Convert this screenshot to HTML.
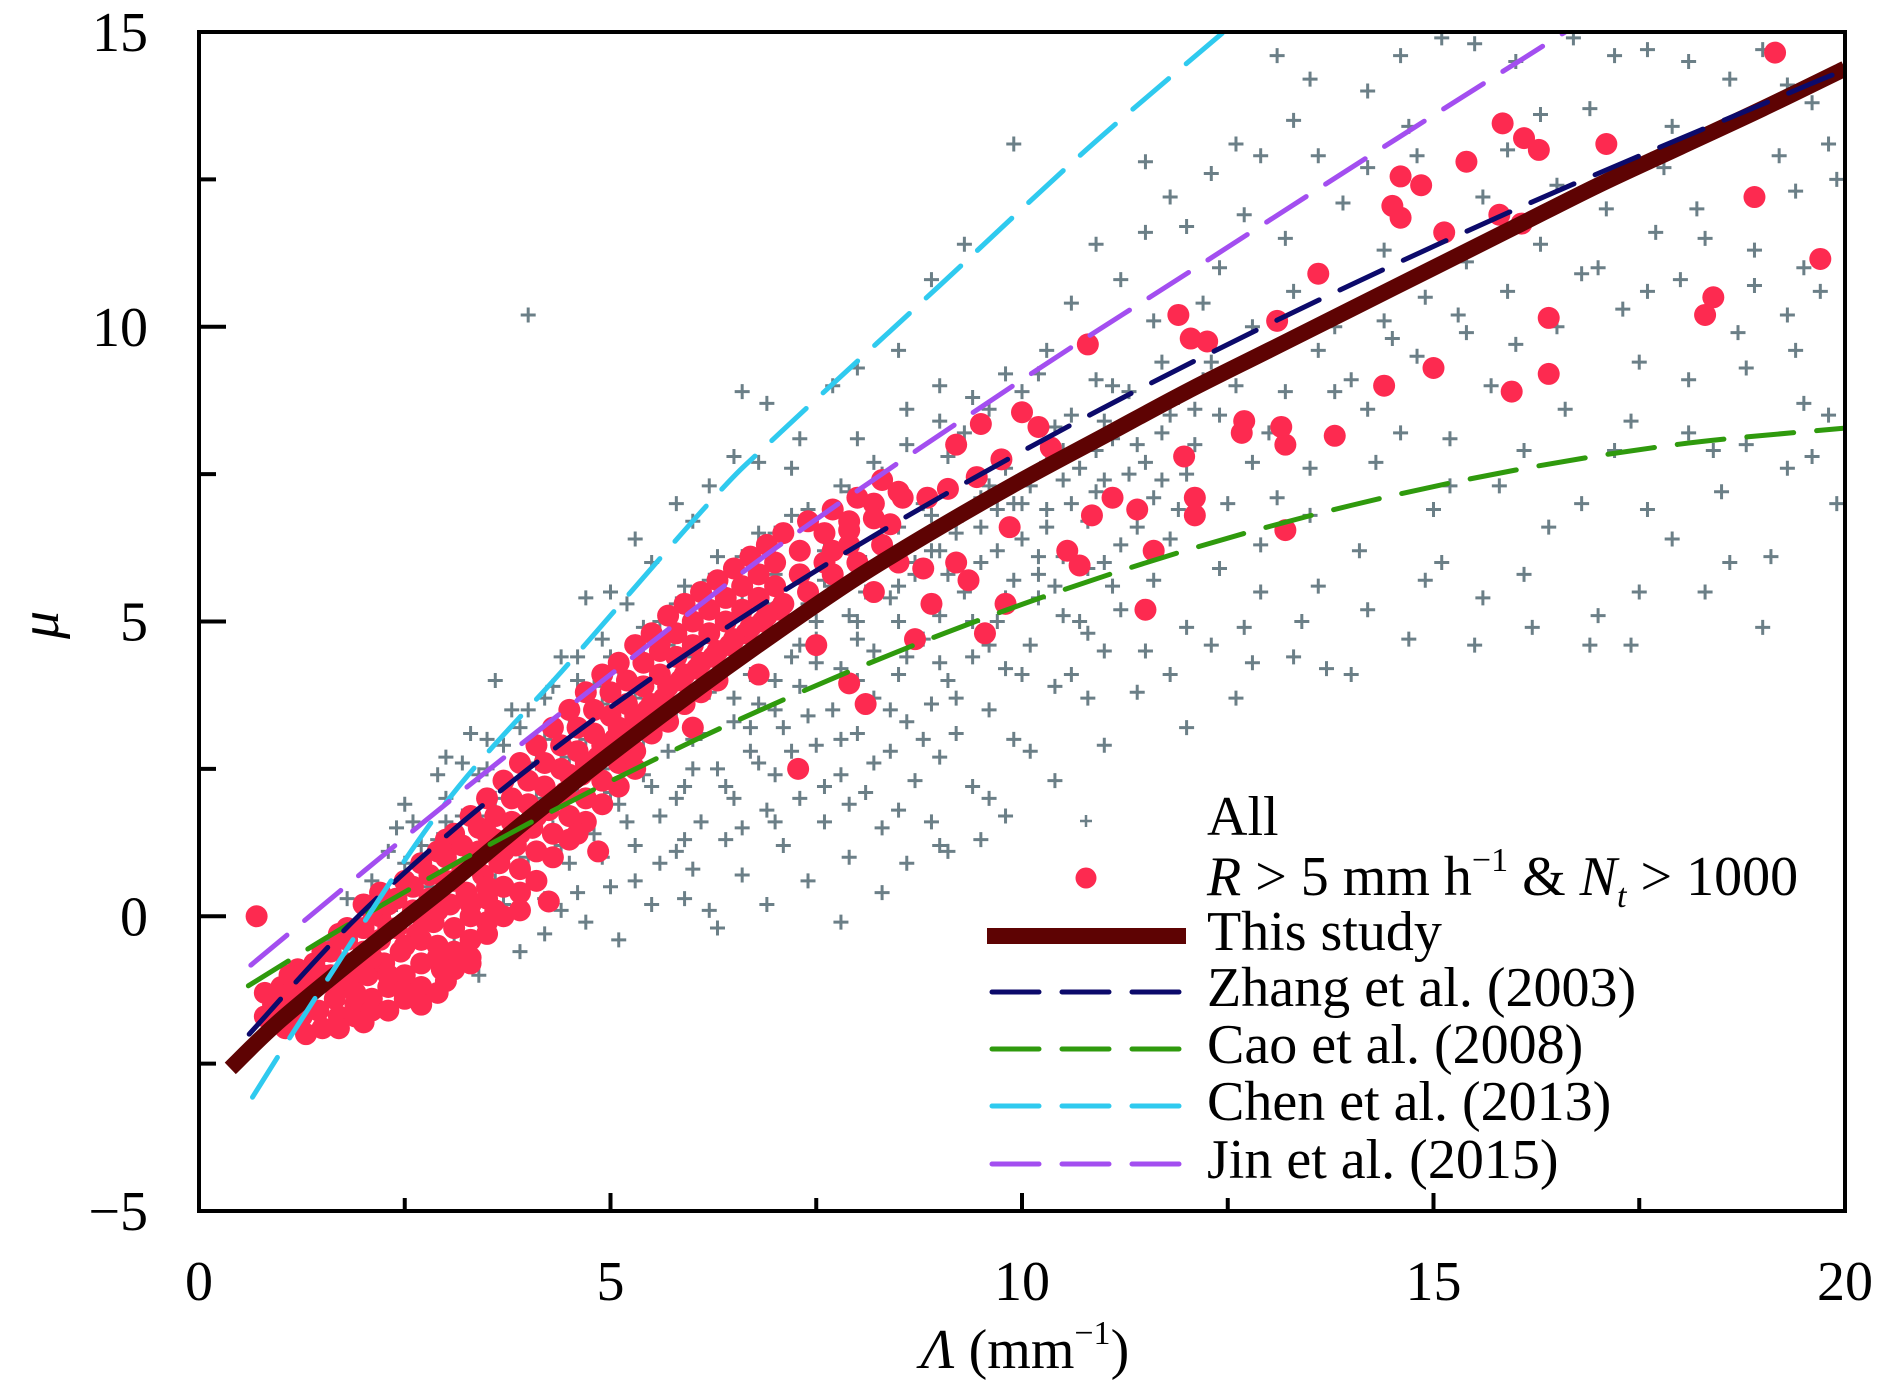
<!DOCTYPE html>
<html><head><meta charset="utf-8"><style>
html,body{margin:0;padding:0;background:#fff;}
svg{display:block;font-family:"Liberation Serif","DejaVu Serif",serif;}
</style></head><body>
<svg id="chart" width="1890" height="1384" viewBox="0 0 1890 1384" xmlns="http://www.w3.org/2000/svg">
<defs><clipPath id="clip"><rect x="199" y="32" width="1646" height="1179"/></clipPath></defs>
<g id="scatterAll" clip-path="url(#clip)"></g>
<g id="scatterRed" clip-path="url(#clip)"></g>
<g id="lines" clip-path="url(#clip)"></g>
<rect x="199" y="32" width="1646" height="1179" fill="none" stroke="#000" stroke-width="4"/>
<g id="ticks"></g>
<text x="1025" y="1368" font-size="56" text-anchor="middle"><tspan font-style="italic">Λ</tspan> (mm<tspan font-size="34" dy="-24">−1</tspan><tspan dy="24">)</tspan></text>
<text x="0" y="0" font-size="56" font-style="italic" text-anchor="middle" transform="translate(58,625) rotate(-90)">μ</text>
<g id="legend">
  <g>
    <path d="M1080 821h12M1086 815v12" stroke="#6b7f87" stroke-width="2.5"/>
    <text x="1207" y="835" font-size="56">All</text>
  </g>
  <g>
    <circle cx="1086" cy="878" r="10.5" fill="#fd2a50"/>
    <text x="1207" y="895" font-size="56"><tspan font-style="italic">R</tspan> &gt; 5 mm h<tspan font-size="34" dy="-24">−1</tspan><tspan dy="24"> &amp; </tspan><tspan font-style="italic">N</tspan><tspan font-style="italic" font-size="34" dy="12">t</tspan><tspan dy="-12"> &gt; 1000</tspan></text>
  </g>
  <g>
    <line x1="987" y1="936" x2="1186" y2="936" stroke="#5e0303" stroke-width="16"/>
    <text x="1207" y="950" font-size="56">This study</text>
  </g>
  <g>
    <line x1="992" y1="992" x2="1181" y2="992" stroke="#0c0a6b" stroke-width="5" stroke-dasharray="47 23" stroke-linecap="round"/>
    <text x="1207" y="1006" font-size="56">Zhang et al. (2003)</text>
  </g>
  <g>
    <line x1="992" y1="1049" x2="1181" y2="1049" stroke="#2f9a0d" stroke-width="5" stroke-dasharray="47 23" stroke-linecap="round"/>
    <text x="1207" y="1063" font-size="56">Cao et al. (2008)</text>
  </g>
  <g>
    <line x1="992" y1="1106" x2="1181" y2="1106" stroke="#2fcaef" stroke-width="5" stroke-dasharray="47 23" stroke-linecap="round"/>
    <text x="1207" y="1120" font-size="56">Chen et al. (2013)</text>
  </g>
  <g>
    <line x1="992" y1="1164" x2="1181" y2="1164" stroke="#a34ef0" stroke-width="5" stroke-dasharray="47 23" stroke-linecap="round"/>
    <text x="1207" y="1178" font-size="56">Jin et al. (2015)</text>
  </g>
</g>
</svg>
<script>
const xTicks = [0, 5, 10, 15, 20];
const xMinorTicks = [2.5, 7.5, 12.5, 17.5];
const yTicks = [-5, 0, 5, 10, 15];
const yMinorTicks = [-2.5, 2.5, 7.5, 12.5];
const xTickLabels = ["0", "5", "10", "15", "20"];
const yTickLabels = ["−5", "0", "5", "10", "15"];

const thisStudyLambda = [0.38,1,2,3,4,5,6,7,8,9,10,11,12,13,14,15,16,17,18,19,20];
const thisStudyMu = [-2.58,-1.75,-0.6,0.5,1.65,2.75,3.8,4.8,5.75,6.6,7.4,8.15,8.9,9.6,10.3,11.0,11.7,12.4,13.05,13.7,14.38];
const zhangLambda = [0.61,1.935,3.551,5.459,7.659,10.151,12.935,16.011,19.379,19.91];
const zhangMu = [-2,0,2,4,6,8,10,12,14,14.3];
const caoLambda = [0.6,2,4,6,8,10,12,14,16,18,20];
const caoMu = [-1.18,0.01,1.57,2.97,4.21,5.29,6.21,6.97,7.57,8.01,8.28];
const chenLambda = [0.65,1.5,2.97,4.5,6.23,7.06,9,10.78,12.45];
const chenMu = [-3.07,-1.2,1.87,4.3,7.06,8.2,10.7,13,15];
const jinLambda = [0.63,2.97,5,7.11,10,12,14.26,16.6];
const jinMu = [-0.83,1.87,4.1,6.35,9.1,10.9,12.93,15];

const allPoints = [[1.3,-0.9],[1.6,-0.4],[1.8,0.3],[2.0,-0.2],[2.1,0.6],[2.3,1.1],[2.4,0.2],[2.5,0.9],[2.6,1.6],[2.7,-0.3],[2.8,0.5],[2.9,1.3],[3.0,2.0],[3.1,0.9],[3.2,1.7],[3.3,0.1],[3.4,2.4],[3.5,1.2],[3.6,2.0],[3.6,0.6],[3.7,2.9],[3.8,1.6],[3.9,-0.6],[3.9,2.5],[4.0,3.5],[4.0,1.0],[4.1,2.0],[4.2,3.0],[4.2,0.3],[4.3,3.9],[4.3,1.5],[4.4,2.6],[4.5,3.4],[4.5,0.9],[4.6,4.4],[4.6,2.1],[4.7,-0.1],[4.7,3.0],[4.8,3.9],[4.8,1.4],[4.9,2.5],[4.9,4.7],[5.0,3.4],[5.0,0.5],[5.1,1.9],[5.1,4.2],[5.2,2.9],[5.2,5.3],[5.3,3.7],[5.3,1.2],[5.4,2.4],[5.4,4.6],[5.5,3.3],[5.5,0.2],[5.6,1.7],[5.6,5.0],[5.7,4.0],[5.7,2.8],[5.8,1.1],[5.8,3.5],[5.9,5.6],[5.9,2.2],[6.0,4.4],[6.0,0.8],[6.1,3.1],[6.1,1.6],[6.2,5.2],[6.2,3.8],[6.3,2.5],[6.3,6.1],[6.4,4.6],[6.4,1.3],[6.5,3.3],[6.5,2.0],[6.6,5.5],[6.6,0.7],[6.7,4.1],[6.7,2.8],[6.8,6.5],[6.8,3.6],[6.9,1.8],[6.9,4.9],[7.0,2.4],[7.0,5.8],[7.1,3.2],[7.1,1.2],[7.2,4.4],[7.2,6.8],[7.3,3.9],[7.3,2.0],[7.4,5.3],[7.4,0.6],[7.5,2.9],[7.5,4.7],[7.6,6.2],[7.6,1.6],[7.7,3.5],[7.7,5.6],[7.8,2.4],[7.8,4.2],[7.9,7.2],[7.9,1.0],[8.0,3.1],[8.0,5.0],[8.1,6.0],[8.1,2.1],[8.2,4.5],[8.2,3.7],[8.3,7.5],[8.3,1.5],[8.4,5.4],[8.4,2.8],[8.5,6.6],[8.5,4.1],[8.6,3.3],[8.6,0.9],[8.7,5.8],[8.7,2.3],[8.8,7.0],[8.8,4.7],[8.9,3.6],[8.9,6.2],[9.0,2.7],[9.0,5.1],[9.1,7.8],[9.1,4.0],[9.2,6.5],[9.2,3.1],[9.3,5.5],[9.3,8.2],[9.4,4.4],[9.4,2.2],[9.5,7.1],[9.5,6.0],[9.6,3.5],[9.6,8.6],[9.7,5.0],[9.7,6.9],[9.8,4.2],[9.8,7.6],[9.9,5.7],[9.9,3.0],[10.0,6.4],[10.0,8.9],[10.1,4.6],[10.1,7.3],[10.2,5.4],[10.2,9.2],[10.3,6.9],[10.4,3.9],[10.4,7.8],[10.5,6.1],[10.6,8.5],[10.7,5.0],[10.8,6.7],[10.9,7.9],[11.0,4.5],[11.1,9.0],[11.2,6.3],[11.3,7.5],[11.4,3.8],[11.6,5.7],[11.7,9.4],[11.9,6.9],[12.0,3.2],[12.2,10.4],[12.6,3.7],[3.0,2.7],[2.4,1.5],[3.3,3.1],[3.8,3.5],[4.4,4.4],[5.0,5.5],[5.5,6.0],[6.0,6.7],[6.2,7.3],[6.8,7.7],[7.3,8.1],[4.7,5.4],[5.3,6.4],[3.6,4.0],[6.6,8.9],[7.2,7.6],[8.0,8.1],[8.6,8.6],[9.0,9.0],[5.9,0.3],[6.3,-0.2],[6.9,0.2],[7.8,-0.1],[8.3,0.4],[9.1,1.1],[9.8,1.7],[10.4,2.3],[11.0,2.9],[10.6,4.1],[9.5,1.3],[8.9,1.6],[7.0,3.5],[6.5,4.7],[5.7,4.6],[4.9,3.6],[4.1,2.6],[3.4,1.7],[2.7,1.2],[2.2,0.0],[2.9,0.1],[3.7,0.2],[4.5,2.3],[5.4,3.0],[6.1,3.8],[6.7,4.5],[7.5,5.0],[8.1,5.5],[8.7,6.0],[9.2,6.7],[9.9,7.0],[10.5,7.4],[11.1,8.1],[11.8,8.5],[12.3,9.4],[12.8,10.0],[13.3,10.6],
[10.3,9.6],[10.6,10.4],[10.9,9.1],[11.2,10.8],[11.5,11.6],[11.8,12.2],[12.0,11.7],[12.3,12.6],[12.6,13.1],[12.9,12.9],[13.3,13.5],[13.5,14.2],[14.2,14.0],[14.6,14.6],[15.1,14.9],[15.5,14.8],[16.0,14.5],[16.7,14.9],[17.2,14.6],[17.6,14.7],[18.1,14.5],[18.6,14.2],[19.3,14.1],[19.6,13.8],[10.2,5.8],[10.5,5.1],[10.8,4.8],[11.1,5.6],[11.4,6.6],[11.7,7.4],[11.9,8.8],[12.2,9.1],[12.4,5.9],[12.7,4.9],[12.9,6.3],[13.1,7.1],[13.3,4.4],[13.6,5.6],[13.8,8.9],[14.0,4.1],[14.1,6.2],[14.3,7.7],[14.5,9.8],[14.7,4.7],[14.9,10.5],[15.0,6.9],[15.2,8.1],[15.4,11.1],[15.6,5.4],[15.8,7.3],[16.0,9.7],[16.2,4.9],[16.4,6.6],[16.6,8.6],[16.8,10.9],[17.0,5.1],[17.2,7.9],[17.4,4.6],[17.5,9.4],[17.7,11.6],[17.9,6.4],[18.1,8.2],[18.3,5.5],[18.5,7.2],[18.7,9.9],[18.9,11.3],[19.1,6.1],[19.3,7.6],[19.5,8.7],[19.7,10.6],[19.9,12.5],[19.9,7.0],[19.2,12.9],[18.4,13.3],[17.8,12.7],[16.5,12.4],[15.9,13.0],[14.8,12.9],[13.9,12.1],[13.2,11.5],[12.4,11.0],[11.6,10.1],[16.9,13.7],[18.2,12.0],[19.5,11.0],[17.3,10.3],[15.3,10.2],[14.4,11.3],[13.0,9.6],[12.1,8.0],[11.3,8.9],[10.7,7.6],[10.4,8.3],[11.0,6.0],[12.5,7.0],[13.5,6.8],[14.6,8.2],[15.7,9.0],[16.3,11.4],[17.1,12.0],[18.0,10.8],[18.8,9.3],[19.4,9.6],[19.8,8.5],[15.1,6.0],[16.1,5.8],[17.6,6.9],[18.6,6.0],[14.2,5.2],[13.4,5.0],[12.8,4.3],[12.3,4.6],[11.8,4.1],[15.5,4.6],[16.9,4.6],[17.5,5.5],[18.4,7.9],[19.0,4.9],[19.6,7.8],[13.7,4.2],[14.9,5.7],[11.5,12.8],[10.9,11.4],[9.9,13.1],[9.3,11.4],[8.9,10.8],[8.5,9.6],[8.0,9.3],[7.7,9.0],[6.9,8.7],[6.5,7.8],[5.8,7.0],[4.0,10.2],
[2.2,-0.8],[2.6,-0.9],[3.1,-0.5],[3.4,-1.0],[3.9,0.9],[4.2,-0.3],[4.4,1.2],[4.6,0.4],[4.9,1.0],[5.1,-0.4],[5.3,0.6],[5.6,0.9],[5.8,2.0],[6.0,2.5],[6.2,0.1],[6.4,2.2],[6.6,1.5],[6.8,2.6],[7.0,1.6],[7.2,2.8],[7.4,3.4],[7.6,2.2],[7.8,3.0],[8.0,4.0],[8.2,2.6],[8.4,3.5],[8.6,4.4],[8.8,3.0],[9.0,4.3],[9.2,3.7],[9.4,5.0],[9.6,4.6],[9.8,5.4],[10.0,4.1],[10.2,6.1],[10.4,5.6],[10.6,7.0],[10.8,5.9],[11.0,7.4],[11.2,5.2],[11.4,8.0],[11.6,7.1],[11.8,6.4],[12.0,7.5],[12.4,8.5],[12.8,7.7],[13.2,8.9],[13.6,9.6],[14.0,9.1],[14.4,10.1],[2.5,1.9],[2.9,2.4],[3.2,2.6],[3.5,3.0],[3.9,3.2],[4.2,3.7],[4.6,4.0],[5.0,4.4],[5.4,4.9],[5.8,5.3],[6.2,5.7],[6.6,6.1],[7.0,6.5],[7.4,6.9],[7.8,7.3],[8.2,7.7],[8.6,8.0],[9.0,8.4],[9.4,8.8],[9.8,9.2],[4.4,0.1],[5.2,1.6],[5.9,1.3],[6.7,3.2],[7.3,4.6],[7.9,5.1],[8.5,5.0],[9.1,5.8],[9.7,6.2],[10.3,6.6],[10.9,7.2],[11.5,7.7],[12.1,8.6],[5.5,2.2],[6.0,3.0],[6.5,3.7],[7.0,4.0],[7.5,4.3],[8.0,4.7],[8.5,5.6],[9.0,6.2],[9.5,6.6],[10.0,7.0],[10.5,7.9],[11.0,8.4],[4.0,1.6],[4.5,2.7],[5.0,2.1],[3.5,2.5],[3.0,1.6],[6.3,4.3],[6.9,5.3],[7.6,5.7],[8.3,6.4],[8.9,6.8],[9.6,7.3],[10.3,7.7],[11.7,8.2],[12.6,9.0],[13.0,8.2],[13.8,10.0],[12.9,5.5],[13.5,7.6],[14.2,8.6],[14.8,9.5],[15.4,9.9],[15.9,10.6],[16.5,10.0],[17.0,11.0],[17.6,10.6],[18.3,11.5],[18.9,10.7],[19.4,12.3],[15.2,7.3],[16.1,7.9],[16.8,7.0],[17.4,8.4],[18.1,9.1],[18.8,8.0],[19.3,10.2],[17.9,13.4],[16.3,13.6],[14.7,13.4],[13.6,12.9],[12.7,11.9],[14.2,12.7],[15.6,12.2],[19.8,13.1],[19.0,14.7],[13.1,14.6],[12.0,4.9],[11.5,4.5],[10.8,3.7],[10.1,2.8],[9.6,2.0],[9.0,1.2],[8.5,1.8],[7.9,1.9]];

const redPoints = [[0.8,-1.3],[0.8,-1.7],[0.9,-1.5],[1.0,-1.2],[1.0,-1.6],[1.05,-1.9],[1.1,-1.4],[1.2,-0.9],[1.2,-1.3],[1.25,-1.7],[1.3,-1.5],[1.4,-0.8],[1.4,-1.2],[1.45,-1.6],[1.5,-1.0],[1.6,-0.6],[1.6,-1.0],[1.65,-1.4],[1.7,-1.7],[1.8,-0.4],[1.8,-0.8],[1.85,-1.2],[1.9,-1.5],[1.8,-0.2],[2.0,-0.2],[2.0,-0.6],[2.05,-1.0],[2.1,-1.4],[2.0,0.2],[2.2,0.0],[2.2,-0.4],[2.25,-0.8],[2.3,-1.2],[2.2,0.4],[2.4,0.3],[2.4,-0.2],[2.45,-0.6],[2.5,-1.0],[2.5,-1.4],[2.6,0.5],[2.6,0.1],[2.65,-0.3],[2.7,-0.8],[2.7,-1.2],[2.8,0.7],[2.8,0.3],[2.85,-0.1],[2.9,-0.5],[2.95,-0.9],[3.0,1.0],[3.0,0.6],[3.05,0.2],[3.1,-0.2],[3.1,-0.6],[3.0,1.3],[3.2,1.2],[3.2,0.8],[3.25,0.4],[3.3,0.0],[3.3,-0.4],[3.4,1.5],[3.4,1.1],[3.45,0.7],[3.5,0.3],[3.5,-0.1],[3.6,1.7],[3.6,1.3],[3.65,0.9],[3.7,0.5],[3.8,2.0],[3.8,1.6],[3.85,1.2],[3.9,0.8],[3.9,0.4],[4.0,2.3],[4.0,1.9],[4.05,1.5],[4.1,1.1],[4.2,2.6],[4.2,2.2],[4.25,1.8],[4.3,1.4],[4.4,2.9],[4.4,2.5],[4.45,2.1],[4.5,1.7],[4.6,3.2],[4.6,2.8],[4.65,2.4],[4.7,2.0],[4.8,3.5],[4.8,3.1],[4.85,2.7],[4.9,2.3],[5.0,3.8],[5.0,3.4],[5.05,3.0],[5.1,2.6],[5.2,4.0],[5.2,3.6],[5.25,3.2],[5.3,2.8],[5.4,4.3],[5.4,3.9],[5.45,3.5],[5.5,3.1],[5.6,4.5],[5.6,4.1],[5.65,3.7],[5.7,3.3],[5.8,4.8],[5.8,4.4],[5.85,4.0],[5.9,3.6],[6.0,5.0],[6.0,4.6],[6.05,4.2],[6.1,3.8],[6.2,5.2],[6.2,4.8],[6.25,4.4],[6.3,4.0],[6.4,5.4],[6.4,5.0],[6.45,4.6],[6.6,5.6],[6.6,5.2],[6.65,4.8],[6.8,5.8],[6.8,5.4],[6.85,5.0],[7.0,6.0],[7.0,5.6],[7.05,5.2],[7.3,6.2],[7.3,5.8],[7.6,6.5],[7.6,6.0],[7.9,6.7],[7.9,6.3],[8.2,7.0],[8.5,7.2],
[1.1,-1.0],[1.1,-1.8],[1.3,-1.1],[1.3,-2.0],[1.5,-0.6],[1.5,-1.9],[1.7,-0.3],[1.7,-1.1],[1.7,-1.9],[1.9,-0.9],[1.9,-1.3],[1.9,-1.7],[2.1,0.1],[2.1,-0.7],[2.1,-1.6],[2.3,0.2],[2.3,-0.2],[2.3,-1.0],[2.3,-1.6],[2.5,0.6],[2.5,-0.5],[2.5,-1.3],[2.7,0.9],[2.7,0.0],[2.7,-0.4],[2.7,-1.5],[2.9,1.1],[2.9,0.1],[2.9,-0.7],[2.9,-1.3],[3.1,1.4],[3.1,0.6],[3.1,-0.9],[3.3,1.7],[3.3,0.2],[3.3,-0.8],[3.5,2.0],[3.5,1.4],[3.5,0.5],[3.7,2.3],[3.7,1.1],[3.7,0.0],[3.9,2.6],[3.9,1.4],[3.9,0.1],[4.1,2.9],[4.1,1.7],[4.1,0.6],[4.3,3.2],[4.3,2.0],[4.3,1.0],[4.5,3.5],[4.5,2.4],[4.5,1.3],[4.7,3.8],[4.7,2.6],[4.7,1.6],[4.9,4.1],[4.9,2.9],[4.9,1.9],[5.1,4.3],[5.1,3.2],[5.1,2.2],[5.3,4.6],[5.3,3.4],[5.3,2.5],[5.5,4.8],[5.5,3.6],[5.7,5.1],[5.7,3.9],[5.9,5.3],[5.9,4.1],[6.1,5.5],[6.1,4.3],[6.3,5.7],[6.3,4.5],[6.5,5.9],[6.5,4.7],[6.7,6.1],[6.7,4.9],[6.9,6.3],[6.9,5.1],[7.1,6.5],[7.1,5.3],[7.4,6.7],[7.4,5.5],[7.7,6.9],[7.7,5.8],[8.0,7.1],[8.0,6.0],[8.3,7.4],[8.3,6.3],[6.0,3.2],[6.8,4.1],[7.5,4.6],
[0.7,0.0],[4.25,0.25],[3.5,-0.3],[3.3,-0.7],[3.0,-1.1],[2.0,-1.8],[4.6,1.4],[4.85,1.1],[3.6,0.1],
[19.15,14.65],[15.84,13.45],[16.1,13.2],[16.28,13.0],[17.1,13.1],[15.4,12.8],[14.6,12.55],[14.85,12.4],[14.5,12.05],[14.6,11.85],[15.13,11.6],[15.8,11.9],[16.07,11.75],[18.9,12.2],[19.7,11.15],[13.6,10.9],[11.9,10.2],[12.05,9.8],[12.25,9.75],[13.1,10.1],[10.8,9.7],[18.4,10.5],[18.3,10.2],[16.4,10.15],[15.0,9.3],[14.4,9.0],[15.95,8.9],[16.4,9.2],[11.97,7.8],[12.1,7.1],[12.1,6.8],[12.67,8.2],[12.7,8.4],[13.15,8.3],[13.2,8.0],[13.8,8.15],[13.2,6.55],[11.5,5.2],[11.6,6.2],[11.4,6.9],[11.1,7.1],[10.7,5.95],[10.55,6.2],[10.85,6.8],[10.35,7.95],[10.2,8.3],[10.0,8.55],[9.75,7.75],[9.85,6.6],[9.8,5.3],[9.55,4.8],[9.35,5.7],[9.2,6.0],[8.8,5.9],[8.7,4.7],[8.1,3.6],[7.9,3.95],[7.28,2.5],[5.6,4.65],[9.5,8.35],[9.2,8.0],[9.45,7.45],[9.1,7.25],[8.85,7.1],[8.55,7.1],[8.4,6.65],[8.2,6.75],[7.9,6.55],[7.7,6.2],[8.5,6.0],[8.2,5.5],[8.9,5.3]];

const X0 = 199, X1 = 1845, Y0 = 1211, Y1 = 32;
function xScale(v){ return X0 + (v - 0) / 20 * (X1 - X0); }
function yScale(v){ return Y0 - (v + 5) / 20 * (Y0 - Y1); }
const NS = "http://www.w3.org/2000/svg";

const tg = document.getElementById('ticks');
function addLine(g, x1, y1, x2, y2, w){
  const l = document.createElementNS(NS, 'line');
  l.setAttribute('x1', x1); l.setAttribute('y1', y1); l.setAttribute('x2', x2); l.setAttribute('y2', y2);
  l.setAttribute('stroke', '#000'); l.setAttribute('stroke-width', w);
  g.appendChild(l); return l;
}
xTicks.forEach((v, i) => {
  const x = xScale(v);
  if (i > 0 && i < xTicks.length - 1) {
    const l = addLine(tg, x, Y0, x, Y0 - 18, 4);
    
    
  }
  const t = document.createElementNS(NS, 'text');
  t.setAttribute('x', x); t.setAttribute('y', 1300);
  t.setAttribute('font-size', '56'); t.setAttribute('text-anchor', 'middle');
  t.textContent = xTickLabels[i];
  
  
  tg.appendChild(t);
});
xMinorTicks.forEach(v => {
  const l = addLine(tg, xScale(v), Y0, xScale(v), Y0 - 13, 4);
  
  
});
yTicks.forEach((v, i) => {
  const y = yScale(v);
  if (i > 0 && i < yTicks.length - 1) {
    const l = addLine(tg, X0, y, X0 + 27, y, 4);
    
    
  }
  const t = document.createElementNS(NS, 'text');
  t.setAttribute('x', 148); t.setAttribute('y', y + 19);
  t.setAttribute('font-size', '56'); t.setAttribute('text-anchor', 'end');
  t.textContent = yTickLabels[i];
  
  
  tg.appendChild(t);
});
yMinorTicks.forEach(v => {
  const l = addLine(tg, X0, yScale(v), X0 + 17, yScale(v), 4);
  
  
});

const ga = document.getElementById('scatterAll');
allPoints.forEach(p => {
  const x = xScale(p[0]), y = yScale(p[1]);
  const c = document.createElementNS(NS, 'path');
  c.setAttribute('d', `M${x-7.5} ${y}h15M${x} ${y-7.5}v15`);
  c.setAttribute('stroke', '#6b7f87'); c.setAttribute('stroke-width', '3');
  
  
  ga.appendChild(c);
});
const gr = document.getElementById('scatterRed');
redPoints.forEach(p => {
  const c = document.createElementNS(NS, 'circle');
  c.setAttribute('cx', xScale(p[0])); c.setAttribute('cy', yScale(p[1])); c.setAttribute('r', 11);
  c.setAttribute('fill', '#fd2a50');
  
  
  gr.appendChild(c);
});

function smoothPath(xs, ys){
  const P = xs.map((v, i) => [xScale(v), yScale(ys[i])]);
  let d = `M${P[0][0]} ${P[0][1]}`;
  for (let i = 0; i < P.length - 1; i++) {
    const p0 = P[i - 1] || P[i], p1 = P[i], p2 = P[i + 1], p3 = P[i + 2] || P[i + 1];
    const c1 = [p1[0] + (p2[0] - p0[0]) / 6, p1[1] + (p2[1] - p0[1]) / 6];
    const c2 = [p2[0] - (p3[0] - p1[0]) / 6, p2[1] - (p3[1] - p1[1]) / 6];
    d += ` C${c1[0]} ${c1[1]} ${c2[0]} ${c2[1]} ${p2[0]} ${p2[1]}`;
  }
  return d;
}
const gl = document.getElementById('lines');
function addCurve(xs, ys, color, width, dash, name){
  const p = document.createElementNS(NS, 'path');
  p.setAttribute('d', smoothPath(xs, ys));
  p.setAttribute('fill', 'none'); p.setAttribute('stroke', color); p.setAttribute('stroke-width', width);
  if (dash) { p.setAttribute('stroke-dasharray', dash); p.setAttribute('stroke-linecap', 'round'); }
  
  
  gl.appendChild(p);
}
addCurve(thisStudyLambda, thisStudyMu, '#5e0303', 16, null, 'this-study-line');
addCurve(caoLambda, caoMu, '#2f9a0d', 5, '47 23', 'cao-2008-line');
addCurve(zhangLambda, zhangMu, '#0c0a6b', 5, '47 23', 'zhang-2003-line');
addCurve(chenLambda, chenMu, '#2fcaef', 5, '47 23', 'chen-2013-line');
addCurve(jinLambda, jinMu, '#a34ef0', 5, '47 23', 'jin-2015-line');
</script>
</body></html>
